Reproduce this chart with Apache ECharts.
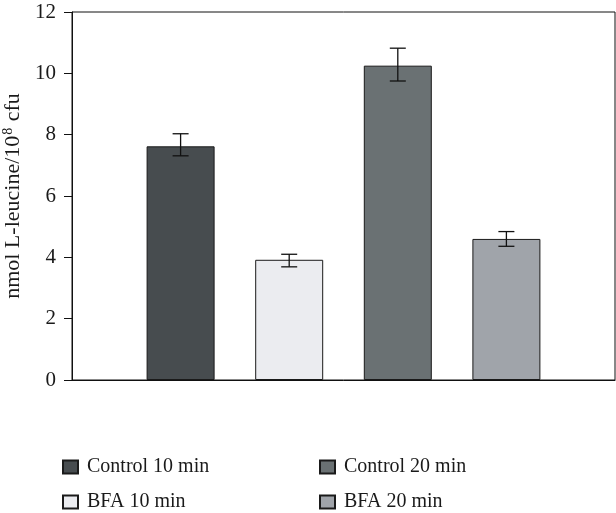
<!DOCTYPE html>
<html><head><meta charset="utf-8">
<script src="https://cdn.jsdelivr.net/npm/echarts@6/dist/echarts.min.js"></script>
<style>html,body{margin:0;padding:0;background:#fff}#c{width:616px;height:513px}</style>
</head><body><div id="c"></div>
<script>
var categories = ['', 'Control 10 min', 'BFA 10 min', 'Control 20 min', 'BFA 20 min', ''];
var seriesNames = ['Control 10 min', 'BFA 10 min', 'Control 20 min', 'BFA 20 min'];
var values = [7.62, 3.92, 10.25, 4.6];
var errLow = [7.31, 3.69, 9.75, 4.36];
var errHigh = [8.03, 4.1, 10.82, 4.84];
var colors = ['#474c4f', '#ebecf0', '#6a7173', '#a0a4aa'];
var yTicks = [0, 2, 4, 6, 8, 10, 12];

var FONT = 'Liberation Serif';
var chart = echarts.init(document.getElementById('c'));
var series = seriesNames.map(function (n, i) {
  var d = categories.map(function () { return null; });
  d[i + 1] = values[i];
  return {
    name: n, type: 'bar', data: d, barWidth: 68, barGap: '-100%',
    itemStyle: { color: colors[i], borderColor: '#1a1a1a', borderWidth: 1 },
    silent: true
  };
});
series.push({
  type: 'custom', silent: true, z: 10,
  data: values.map(function (v, i) { return [i + 1, errLow[i], errHigh[i]]; }),
  renderItem: function (params, api) {
    var x = api.value(0);
    var lo = api.coord([x, api.value(1)]);
    var hi = api.coord([x, api.value(2)]);
    var w = 8;
    var st = { stroke: '#111', lineWidth: 1.3 };
    return { type: 'group', children: [
      { type: 'line', shape: { x1: lo[0], y1: lo[1], x2: hi[0], y2: hi[1] }, style: st },
      { type: 'line', shape: { x1: lo[0] - w, y1: lo[1], x2: lo[0] + w, y2: lo[1] }, style: st },
      { type: 'line', shape: { x1: hi[0] - w, y1: hi[1], x2: hi[0] + w, y2: hi[1] }, style: st }
    ]};
  }
});
function leg(name, left, top) {
  return {
    data: [name], left: left, top: top, orient: 'horizontal', padding: 0,
    itemWidth: 15, itemHeight: 13, icon: 'rect', selectedMode: false,
    textStyle: { fontFamily: FONT, fontSize: 20, color: '#1a1a1a', padding: [0, 0, 0, 4] }
  };
}
chart.setOption({
  animation: false,
  grid: { left: 72, right: 1, top: 12, bottom: 133, show: true, borderColor: '#111', borderWidth: 1, outerBoundsMode: 'none', containLabel: false },
  xAxis: {
    type: 'category', data: categories, boundaryGap: false,
    axisLine: { lineStyle: { color: '#111' } }, axisTick: { show: false }, axisLabel: { show: false }
  },
  yAxis: {
    type: 'value', min: 0, max: 12, interval: 2,
    axisLine: { show: true, lineStyle: { color: '#111' } },
    axisTick: { show: true, length: 8, lineStyle: { color: '#111' } },
    splitLine: { show: false },
    axisLabel: { fontFamily: FONT, fontSize: 21, color: '#1a1a1a', margin: 16,
      formatter: function (v) { return yTicks.indexOf(v) >= 0 ? String(v) : ''; } },
    name: '{a|nmol L-leucine/10}{s|8}{a| cfu}',
    nameLocation: 'middle', nameRotate: 90, nameGap: 45,
    nameTextStyle: {
      rich: {
        a: { fontFamily: FONT, fontSize: 22, color: '#1a1a1a' },
        s: { fontFamily: FONT, fontSize: 14, color: '#1a1a1a', verticalAlign: 'top', padding: [0, 1, 9, 1] }
      }
    }
  },
  legend: [leg('Control 10 min', 62, 457), leg('Control 20 min', 319, 457), leg('BFA 10 min', 62, 492), leg('BFA 20 min', 319, 492)],
  series: series
});
</script></body></html>
